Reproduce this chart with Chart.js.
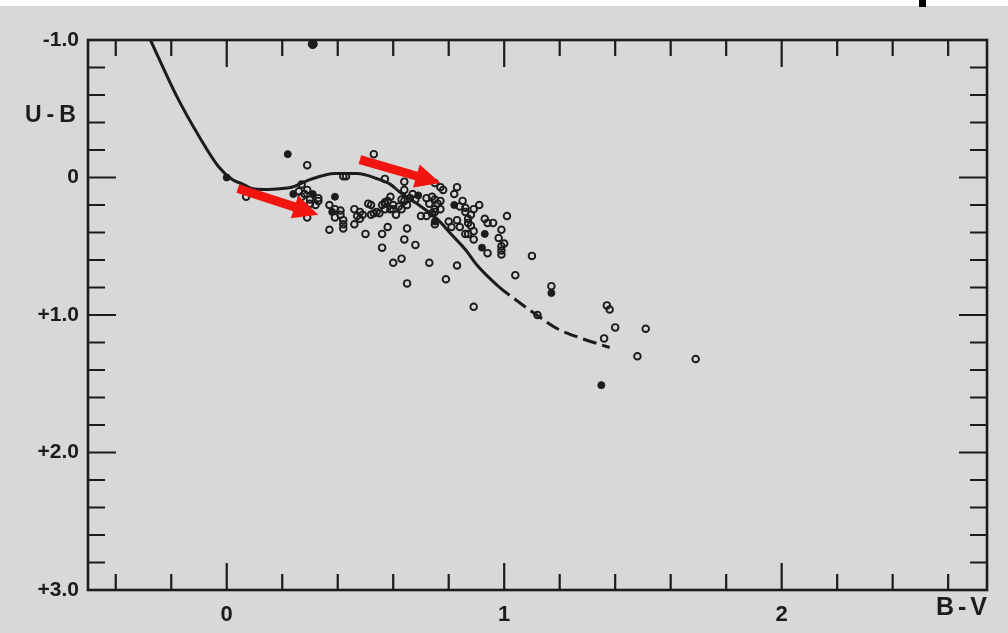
<!DOCTYPE html>
<html>
<head>
<meta charset="utf-8">
<script src="https://cdn.jsdelivr.net/npm/chart.js@4.4.1/dist/chart.umd.min.js"></script>
<style>
  html, body { margin: 0; padding: 0; background: #d8d8d8; }
  #wrap { position: relative; width: 1008px; height: 633px; overflow: hidden; }
  #chart { display: block; }
  #scanEdge { position: absolute; left: 0; top: 0; width: 1008px; height: 6px; background: #fff; }
  #scanMark { position: absolute; left: 919px; top: 0; width: 7px; height: 7px; background: #000; }
</style>
</head>
<body>
<div id="wrap">
  <canvas id="chart" width="1008" height="633"></canvas>
  <div id="scanEdge"></div>
  <div id="scanMark"></div>
</div>
<script>
// Axis ticks
const xTickValues = [0, 1, 2];
const xTickLabels = ['0', '1', '2'];
const yTickValues = [-1, 0, 1, 2, 3];
const yTickLabels = ['-1.0', '0', '+1.0', '+2.0', '+3.0'];

// Main sequence curve (solid, then dashed from B-V = 0.98)
const curveBV = [-0.275, -0.18, -0.10, -0.03, 0.02, 0.06, 0.09, 0.14, 0.20, 0.23, 0.30, 0.39, 0.47, 0.54, 0.59, 0.62, 0.69, 0.76, 0.81, 0.86, 0.90, 0.98, 1.04, 1.12, 1.19, 1.27, 1.38];
const curveUB = [-1.0, -0.59, -0.30, -0.08, 0.015, 0.05, 0.08, 0.087, 0.08, 0.073, 0.015, -0.029, -0.029, 0.007, 0.05, 0.10, 0.196, 0.305, 0.415, 0.524, 0.633, 0.793, 0.887, 1.004, 1.098, 1.164, 1.236];
const dashFromBV = 0.98;

// Stars, open circles
const openBV = [
  0.29, 0.53, 0.07, 0.42, 0.43, 0.57, 0.27, 0.26, 0.28, 0.29,
  0.33, 0.30, 0.30, 0.32, 0.33, 0.27, 0.37, 0.39, 0.41, 0.39,
  0.41, 0.42, 0.42, 0.42, 0.37, 0.29, 0.46, 0.48, 0.47, 0.48,
  0.46, 0.50, 0.51, 0.52, 0.49, 0.52, 0.54, 0.55, 0.56, 0.57,
  0.56, 0.56, 0.64, 0.64, 0.59, 0.58, 0.60, 0.60, 0.61, 0.62,
  0.63, 0.64, 0.65, 0.66, 0.68, 0.53, 0.58, 0.65, 0.64, 0.68,
  0.60, 0.63, 0.65, 0.73, 0.70, 0.72, 0.74, 0.75, 0.76, 0.75,
  0.77, 0.75, 0.77, 0.78, 0.83, 0.82, 0.85, 0.84, 0.86, 0.86,
  0.88, 0.89, 0.91, 0.87, 0.80, 0.81, 0.84, 0.83, 0.87, 0.88,
  0.89, 0.87, 0.86, 0.93, 0.94, 0.96, 1.01, 0.89, 0.99, 0.98,
  1.00, 0.99, 0.99, 0.99, 0.94, 0.83, 0.79, 0.89, 1.10, 1.04,
  1.17, 1.12, 1.37, 1.38, 1.40, 1.36, 1.51, 1.48, 1.69, 0.72,
  0.74, 0.75, 0.73, 0.77, 0.67, 0.57, 0.57, 0.59, 0.63, 0.75
];
const openUB = [
  -0.09, -0.17, 0.14, -0.01, -0.01, 0.01, 0.05, 0.10, 0.12, 0.09,
  0.15, 0.16, 0.19, 0.20, 0.17, 0.14, 0.20, 0.23, 0.24, 0.29,
  0.27, 0.31, 0.34, 0.37, 0.38, 0.29, 0.23, 0.25, 0.28, 0.30,
  0.34, 0.41, 0.19, 0.20, 0.27, 0.27, 0.25, 0.26, 0.20, 0.19,
  0.41, 0.51, 0.03, 0.09, 0.14, 0.17, 0.20, 0.23, 0.27, 0.21,
  0.23, 0.17, 0.20, 0.15, 0.16, 0.26, 0.36, 0.37, 0.45, 0.49,
  0.62, 0.59, 0.77, 0.62, 0.28, 0.15, 0.14, 0.16, 0.19, 0.23,
  0.23, 0.04, 0.07, 0.09, 0.07, 0.12, 0.17, 0.21, 0.22, 0.25,
  0.27, 0.23, 0.20, 0.30, 0.32, 0.36, 0.36, 0.31, 0.33, 0.35,
  0.39, 0.41, 0.41, 0.30, 0.33, 0.33, 0.28, 0.45, 0.38, 0.44,
  0.48, 0.50, 0.53, 0.56, 0.55, 0.64, 0.74, 0.94, 0.57, 0.71,
  0.79, 1.00, 0.93, 0.96, 1.09, 1.17, 1.10, 1.30, 1.32, 0.28,
  0.26, 0.25, 0.19, 0.17, 0.12, 0.18, 0.23, 0.23, 0.16, 0.34
];

// Stars, filled dots
const filledBV = [0.00, 0.22, 0.24, 0.31, 0.39, 0.38, 0.69, 0.75, 0.82, 0.93, 0.92, 1.17, 1.35];
const filledUB = [0.00, -0.17, 0.12, 0.12, 0.14, 0.25, 0.13, 0.32, 0.20, 0.41, 0.51, 0.84, 1.51];
const bigDotBV = [0.31];
const bigDotUB = [-0.97];

// Red annotation arrows (tail -> tip)
const arrowTailBV = [0.04, 0.48];
const arrowTailUB = [0.08, -0.13];
const arrowTipBV = [0.33, 0.77];
const arrowTipUB = [0.27, 0.04];

const ink = '#1c1c1c';
const fontFamily = "'Liberation Sans', Arial, sans-serif";

function toPoints(xs, ys) {
    return xs.map((x, i) => ({ x: x, y: ys[i] }));
}

// Frame, inward ticks on all four sides, arrows, axis titles
const framePlugin = {
    id: 'frame',
    beforeDatasetsDraw(chart) {
        const { ctx, chartArea: a, scales: { x, y } } = chart;
        ctx.save();
        ctx.strokeStyle = ink;
        ctx.lineWidth = 2.6;
        ctx.strokeRect(a.left, a.top, a.right - a.left, a.bottom - a.top);

        ctx.lineWidth = 2.2;
        ctx.beginPath();
        for (let k = -2; k <= 13; k++) {
            const len = k % 5 === 0 ? 27 : 16;
            const px = x.getPixelForValue(k / 5);
            ctx.moveTo(px, a.bottom);
            ctx.lineTo(px, a.bottom - len);
            ctx.moveTo(px, a.top);
            ctx.lineTo(px, a.top + len);
        }
        for (let k = -4; k <= 14; k++) {
            const len = k % 5 === 0 ? 28 : 17;
            const py = y.getPixelForValue(k / 5);
            ctx.moveTo(a.left, py);
            ctx.lineTo(a.left + len, py);
            ctx.moveTo(a.right, py);
            ctx.lineTo(a.right - len, py);
        }
        ctx.stroke();
        ctx.restore();
    },
    afterDatasetsDraw(chart) {
        const { ctx, scales: { x, y } } = chart;
        ctx.save();
        ctx.fillStyle = '#f2140f';
        arrowTailBV.forEach((bv, i) => {
            const x0 = x.getPixelForValue(bv), y0 = y.getPixelForValue(arrowTailUB[i]);
            const x1 = x.getPixelForValue(arrowTipBV[i]), y1 = y.getPixelForValue(arrowTipUB[i]);
            const ang = Math.atan2(y1 - y0, x1 - x0);
            const len = Math.hypot(x1 - x0, y1 - y0);
            const shaft = 4.5, headLen = 25, headHalf = 12;
            ctx.save();
            ctx.translate(x0, y0);
            ctx.rotate(ang);
            ctx.beginPath();
            ctx.moveTo(0, -shaft);
            ctx.lineTo(len - headLen, -shaft);
            ctx.lineTo(len - headLen, -headHalf);
            ctx.lineTo(len, 0);
            ctx.lineTo(len - headLen, headHalf);
            ctx.lineTo(len - headLen, shaft);
            ctx.lineTo(0, shaft);
            ctx.closePath();
            ctx.fill();
            ctx.restore();
        });
        ctx.restore();
    },
    afterDraw(chart) {
        const { ctx, chartArea: a } = chart;
        ctx.save();
        ctx.fillStyle = ink;
        ctx.textBaseline = 'middle';
        ctx.letterSpacing = '5px';
        ctx.font = `bold 23px ${fontFamily}`;
        ctx.textAlign = 'left';
        ctx.fillText('U-B', a.left - 63, 116);
        ctx.letterSpacing = '4px';
        ctx.font = `bold 25px ${fontFamily}`;
        ctx.textAlign = 'right';
        ctx.fillText('B-V', a.right + 4, a.bottom + 18);
        ctx.restore();
    }
};

new Chart(document.getElementById('chart'), {
    type: 'scatter',
    data: {
        datasets: [
            {
                label: 'Main sequence',
                data: toPoints(curveBV, curveUB),
                showLine: true,
                pointRadius: 0,
                borderColor: ink,
                borderWidth: 3,
                cubicInterpolationMode: 'monotone',
                segment: {
                    borderDash: c => c.p0DataIndex >= curveBV.indexOf(dashFromBV) ? [14, 6] : undefined
                }
            },
            {
                label: 'Stars (open)',
                data: toPoints(openBV, openUB),
                pointRadius: 3.3,
                pointBorderWidth: 1.9,
                borderColor: ink,
                backgroundColor: 'rgba(0,0,0,0)'
            },
            {
                label: 'Stars (filled)',
                data: toPoints(filledBV, filledUB),
                pointRadius: 3.5,
                pointBorderWidth: 1,
                borderColor: ink,
                backgroundColor: ink
            },
            {
                label: 'Bright star',
                data: toPoints(bigDotBV, bigDotUB),
                pointRadius: 4.5,
                pointBorderWidth: 1,
                borderColor: ink,
                backgroundColor: ink
            }
        ]
    },
    options: {
        responsive: false,
        animation: false,
        layout: { padding: { top: 40, right: 21, left: 0, bottom: 0 } },
        plugins: {
            legend: { display: false },
            tooltip: { enabled: false }
        },
        scales: {
            x: {
                type: 'linear',
                min: -0.5,
                max: 2.74,
                grid: { display: false, drawTicks: false },
                border: { display: false },
                afterBuildTicks: s => { s.ticks = xTickValues.map(v => ({ value: v })); },
                afterFit: s => { s.height = 43; },
                ticks: {
                    padding: 12,
                    color: ink,
                    autoSkip: false,
                    maxRotation: 0,
                    font: { family: fontFamily, size: 22, weight: 'bold' },
                    callback: (v, i) => xTickLabels[i]
                }
            },
            y: {
                type: 'linear',
                reverse: true,
                min: -1,
                max: 3,
                grid: { display: false, drawTicks: false },
                border: { display: false },
                afterBuildTicks: s => { s.ticks = yTickValues.map(v => ({ value: v })); },
                afterFit: s => { s.width = 88; },
                ticks: {
                    padding: 9,
                    color: ink,
                    autoSkip: false,
                    font: { family: fontFamily, size: 21, weight: 'bold' },
                    callback: (v, i) => yTickLabels[i]
                }
            }
        }
    },
    plugins: [framePlugin]
});
</script>
</body>
</html>
